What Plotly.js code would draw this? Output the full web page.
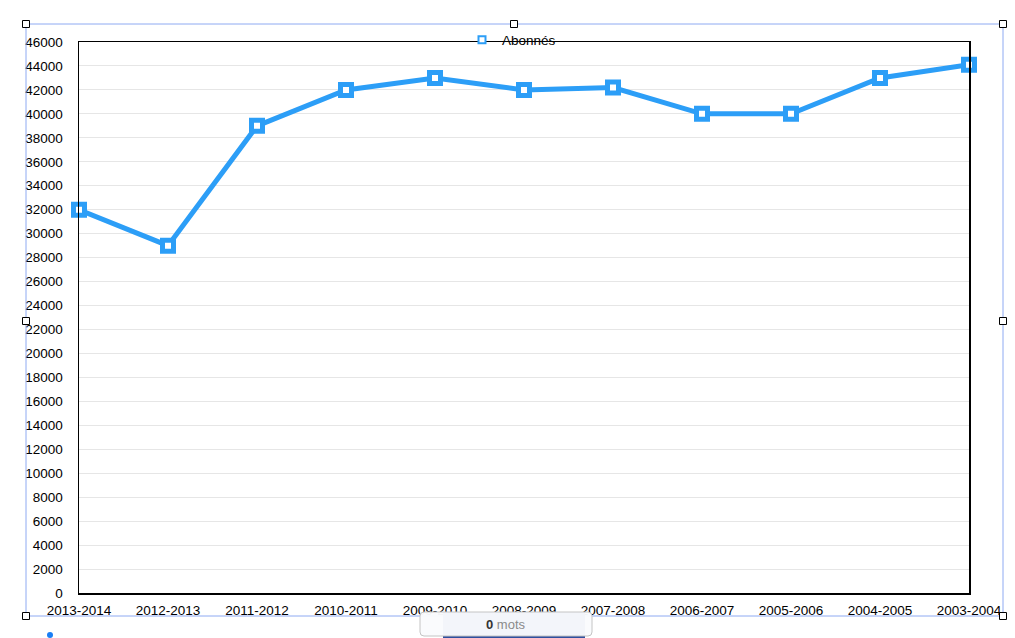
<!DOCTYPE html>
<html>
<head>
<meta charset="utf-8">
<script src="https://cdn.plot.ly/plotly-3.0.1.min.js"></script>
<style>html,body{margin:0;padding:0;background:#fff;}#chart{width:1015px;height:638px;}</style>
</head>
<body>
<div id="chart"></div>
<script>
// ---- data ----
const seasons = ["2013-2014","2012-2013","2011-2012","2010-2011","2009-2010","2008-2009","2007-2008","2006-2007","2005-2006","2004-2005","2003-2004"];
const abonnes = [32000, 29000, 39000, 42000, 43000, 42000, 42200, 40000, 40000, 43000, 44100];
const seriesName = "Abonnés";
const yMax = 46000;
const yStep = 2000;

// ---- layout helpers (pixel -> paper) ----
const W = 1015, H = 638;
const PL = 79, PR = 969, PT = 42, PB = 593;
const px = p => (p - PL) / (PR - PL);
const py = p => (PB - p) / (PB - PT);
const BLUE = "#2c9ef7";

const shapes = [];
// selection frame (editor decoration)
const selColor = "#8eaaf2";
shapes.push({type:"rect", xref:"paper", yref:"paper", x0:px(26), x1:px(1003), y0:py(24), y1:py(616), line:{color:selColor, width:1}, fillcolor:"rgba(0,0,0,0)"});
const handles = [[26,24],[514,24],[1003,24],[26,321],[1003,321],[26,616],[1003,616]];
handles.forEach(h => shapes.push({type:"rect", xref:"paper", yref:"paper", x0:px(h[0]-3.5), x1:px(h[0]+3.5), y0:py(h[1]+3.5), y1:py(h[1]-3.5), line:{color:"#000", width:1}, fillcolor:"#fff"}));
// word count box
shapes.push({type:"rect", xref:"paper", yref:"paper", x0:px(443), x1:px(585), y0:py(640), y1:py(612), line:{width:0}, fillcolor:"#2f4f9e"});
shapes.push({type:"path", xref:"paper", yref:"paper",
  path: `M ${px(424)} ${py(612)} L ${px(588)} ${py(612)} Q ${px(592)} ${py(612)} ${px(592)} ${py(616)} L ${px(592)} ${py(632)} Q ${px(592)} ${py(636)} ${px(588)} ${py(636)} L ${px(424)} ${py(636)} Q ${px(420)} ${py(636)} ${px(420)} ${py(632)} L ${px(420)} ${py(616)} Q ${px(420)} ${py(612)} ${px(424)} ${py(612)} Z`,
  line:{color:"#c4c4c4", width:1}, fillcolor:"rgba(250,251,253,0.97)"});
// small blue dot
shapes.push({type:"circle", xref:"paper", yref:"paper", x0:px(47), x1:px(53), y0:py(638), y1:py(632), line:{width:0}, fillcolor:"#1a7ff5"});

const annotations = [
  {xref:"paper", yref:"paper", x:px(506), y:py(624), xanchor:"center", yanchor:"middle", showarrow:false,
   text:"<b>0</b> <span style='color:#8a8a8a'>mots</span>", font:{family:"Liberation Sans, Arial, sans-serif", size:13, color:"#333"}}
];

const traces = [
  {x: seasons, y: abonnes, type:"scatter", mode:"lines+markers", name: seriesName, showlegend:false,
   line:{color:BLUE, width:5}, marker:{symbol:"square", size:11, color:"#fff", line:{color:BLUE, width:5}}, cliponaxis:false},
  {x: [seasons[0]], y: [null], type:"scatter", mode:"markers", name: seriesName, showlegend:true,
   marker:{symbol:"square", size:7, color:"#fff", line:{color:BLUE, width:2}}}
];

const layout = {
  width: W, height: H,
  margin:{l:PL, r:W-PR, t:PT, b:H-PB, pad:0},
  paper_bgcolor:"#fff", plot_bgcolor:"#fff",
  font:{family:"Liberation Sans, Arial, Helvetica, sans-serif", size:14, color:"#000"},
  showlegend:true,
  legend:{orientation:"h", x:px(462), xanchor:"left", y:py(40), yanchor:"middle", bgcolor:"rgba(0,0,0,0)", borderwidth:0, font:{size:13.5, color:"#000"}},
  xaxis:{type:"category", range:[0, seasons.length-1], autorange:false, showgrid:false, zeroline:false,
    showline:true, linecolor:"#000", linewidth:1.5, mirror:true, ticks:"outside", ticklen:4, tickcolor:"rgba(0,0,0,0)",
    tickfont:{size:13.5}, fixedrange:true},
  yaxis:{range:[0, yMax], autorange:false, dtick:yStep, tick0:0, tickformat:"d", showgrid:true, gridcolor:"#e6e6e6", gridwidth:1,
    zeroline:false, showline:true, linecolor:"#000", linewidth:1.5, mirror:true, ticks:"outside", ticklen:12, tickcolor:"rgba(0,0,0,0)",
    tickfont:{size:13.5}, fixedrange:true},
  shapes: shapes,
  annotations: annotations
};

Plotly.newPlot("chart", traces, layout, {displayModeBar:false, staticPlot:true});
</script>
</body>
</html>
